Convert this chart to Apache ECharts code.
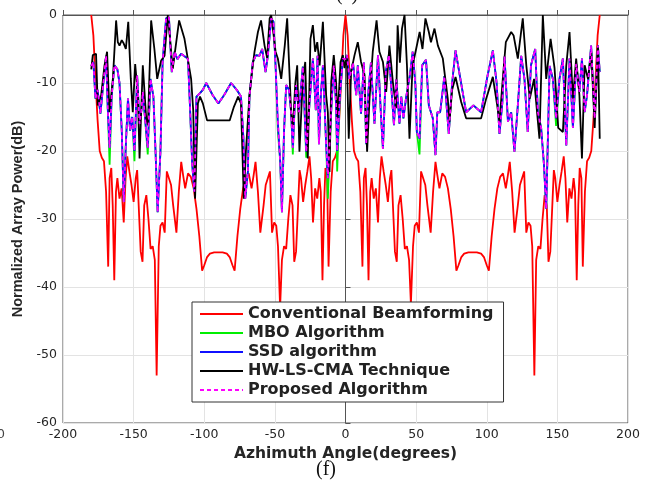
<!DOCTYPE html>
<html><head><meta charset="utf-8">
<script src="https://cdn.jsdelivr.net/npm/echarts@6/dist/echarts.min.js"></script>
<style>html,body{margin:0;padding:0;background:#fff}#c{width:652px;height:491px}</style>
</head><body><div id="c"></div>
<script>
const seriesNames = ['Conventional Beamforming','MBO Algorithm','SSD algorithm','HW-LS-CMA Technique','Proposed Algorithm'];
const xTickValues = [-200,-150,-100,-50,0,50,100,150,200];
const yTickValues = [-60,-50,-40,-30,-20,-10,0];

// Conventional beamforming: [angle (deg), power (dB)]
const conventional = [
[-180,0],[-178.5,-3],[-177,-9.5],[-175.5,-15.5],[-174,-20],[-172.5,-21],[-171,-21.5],[-169.5,-26],[-168,-37],[-167,-24],
[-165.8,-22.5],[-164.8,-28],[-163.7,-39],[-162.5,-26],[-161.5,-24],[-160,-27],[-158.5,-25.5],[-157,-30.5],[-155.7,-24],[-154.5,-20.8],
[-153,-23],[-151.5,-25],[-150,-27.5],[-148.5,-24],[-147.5,-22.8],[-146,-30],[-145,-34.8],[-143.7,-36.3],[-142.5,-28],[-141,-26.5],
[-139.5,-30],[-138,-34.4],[-136.5,-34],[-135,-36],[-133.7,-53],[-132.2,-34],[-131,-31],[-129.5,-30.5],[-128,-32],[-126.5,-23],
[-125,-24],[-123.5,-25],[-122,-28],[-119.7,-32],[-118,-26],[-116.3,-21.6],[-115,-23.5],[-113.5,-25.5],[-111.5,-23.3],[-109.5,-23.8],
[-107.5,-25.5],[-105.5,-28.5],[-103.5,-32.5],[-101.5,-37.6],[-100,-36.8],[-98,-35.6],[-96,-35.1],[-93,-34.9],
[-90,-34.9],[-87,-34.9],[-84,-35.1],[-82,-35.6],[-80,-36.8],[-78.5,-37.6],[-76.5,-32.5],[-74.5,-28.5],[-72.5,-25.5],[-70.5,-23.8],
[-68.5,-23.3],[-66.5,-25.5],[-65,-23.5],[-63.7,-21.6],[-62,-26],[-60.3,-32],[-58,-28],[-56.5,-25],[-55,-24],[-53.5,-23],
[-52,-32],[-50.5,-30.5],[-49,-31],[-47.8,-34],[-46.3,-43],[-45,-36],[-43.5,-34],[-42,-34.4],[-40.5,-30],[-39,-26.5],
[-37.5,-28],[-36.3,-36.3],[-35,-34.8],[-34,-30],[-32.5,-22.8],[-31.5,-24],[-30,-27.5],[-28.5,-25],[-27,-23],[-25.5,-20.8],
[-24.3,-24],[-23,-30.5],[-21.5,-25.5],[-20,-27],[-18.5,-24],[-17.5,-26],[-16.3,-39],[-15.2,-28],[-14.2,-22.5],[-13,-24],
[-12,-37],[-10.5,-26],[-9,-21.5],[-7.5,-21],[-6,-20],[-4.5,-15.5],[-3,-9.5],[-1.5,-3],
[0,0],[1.5,-3],[3,-9.5],[4.5,-15.5],[6,-20],[7.5,-21],[9,-21.5],[10.5,-26],[12,-37],[13,-24],
[14.2,-22.5],[15.2,-28],[16.3,-39],[17.5,-26],[18.5,-24],[20,-27],[21.5,-25.5],[23,-30.5],[24.3,-24],[25.5,-20.8],
[27,-23],[28.5,-25],[30,-27.5],[31.5,-24],[32.5,-22.8],[34,-30],[35,-34.8],[36.3,-36.3],[37.5,-28],[39,-26.5],
[40.5,-30],[42,-34.4],[43.5,-34],[45,-36],[46.3,-42.5],[47.8,-34],[49,-31],[50.5,-30.5],[52,-32],[53.5,-23],
[55,-24],[56.5,-25],[58,-28],[60.3,-32],[62,-26],[63.7,-21.6],[65,-23.5],[66.5,-25.5],[68.5,-23.3],[70.5,-23.8],
[72.5,-25.5],[74.5,-28.5],[76.5,-32.5],[78.5,-37.6],[80,-36.8],[82,-35.6],[84,-35.1],[87,-34.9],
[90,-34.9],[93,-34.9],[96,-35.1],[98,-35.6],[100,-36.8],[101.5,-37.6],[103.5,-32.5],[105.5,-28.5],[107.5,-25.5],[109.5,-23.8],
[111.5,-23.3],[113.5,-25.5],[115,-23.5],[116.3,-21.6],[118,-26],[119.7,-32],[122,-28],[123.5,-25],[125,-24],[126.5,-23],
[128,-32],[129.5,-30.5],[131,-31],[132.2,-34],[133.7,-53],[135,-36],[136.5,-34],[138,-34.4],[139.5,-30],[141,-26.5],
[142.5,-28],[143.7,-36.3],[145,-34.8],[146,-30],[147.5,-22.8],[148.5,-24],[150,-27.5],[151.5,-25],[153,-23],[154.5,-20.8],
[155.7,-24],[157,-30.5],[158.5,-25.5],[160,-27],[161.5,-24],[162.5,-26],[163.7,-39],[164.8,-28],[165.8,-22.5],[167,-24],
[168,-37],[169.5,-26],[171,-21.5],[172.5,-21],[174,-20],[175.5,-15.5],[177,-9.5],[178.5,-3],[180,0]
];

// SSD algorithm
const ssd = [
[-180,-7.5],[-178.5,-6.9],[-177,-12.3],[-175.5,-11],[-173.5,-14.5],[-171.8,-10.8],[-169.5,-6],[-168.3,-13.8],[-167,-19.5],[-165.5,-11.8],
[-163.6,-7.4],[-161.5,-8],[-160,-10],[-158.4,-17],[-157,-27.5],[-155.5,-19],[-154,-12.3],[-152.5,-17],[-151,-15],[-149.4,-20],
[-147.5,-8.9],[-145.8,-16],[-144.5,-14],[-143.5,-11.3],[-142,-15],[-140,-19.5],[-138.1,-9.4],[-136,-12],[-134.5,-20],[-133,-29],
[-131,-20],[-129.5,-7],[-127,-0.5],[-125,-0.3],[-123,-8.4],[-121,-5.4],[-119,-6.5],[-116.4,-5.7],[-113,-6.2],[-111.5,-6.5],
[-110,-14],[-108.5,-22],[-107,-26],[-105.5,-12],[-103,-11.5],[-101,-11],[-98.6,-10],[-94,-11.8],[-90,-13],[-86,-11.8],
[-81,-10],[-77,-11],[-74,-12],[-72.3,-18],[-71,-27],[-69.1,-23],[-68,-12],[-65.6,-6.9],[-63.3,-5.9],[-61,-6],
[-59,-5],[-56.6,-8.4],[-55,-6],[-52.6,-0.5],[-51,-1],[-49.5,-7.5],[-47.9,-15.7],[-46.2,-21.6],[-45,-29],[-43.5,-17],
[-42,-10.3],[-40,-11],[-38.5,-14.3],[-37.3,-19.5],[-36.1,-14],[-35,-10.3],[-33,-14.3],[-30.2,-7.6],[-27.8,-20.1],[-25.5,-13],
[-23.1,-6.4],[-21,-14],[-19.8,-6],[-18.8,-19],[-17.5,-12],[-16,-7.4],[-13.7,-19],[-12.5,-24],[-10.1,-14],[-8.3,-7.4],
[-6.7,-13],[-5.9,-20],[-4,-12],[-1.9,-6.4],[0,-6.5],[1,-5.9],[2.8,-9.4],[5.3,-7],[7.6,-11.8],[8.7,-7.4],
[11,-14.5],[13,-7],[14.7,-19],[16.2,-11.3],[18,-7],[20.5,-16],[23,-5.9],[25,-14.3],[26.5,-19.7],[28.5,-8.4],
[30.7,-5.9],[32.5,-10.8],[34.3,-16.2],[36,-9.5],[38.2,-16],[39.5,-12],[41,-15.2],[43,-12],[45.5,-9],[47.6,-5.4],
[49.5,-10.3],[50.5,-17.2],[52.4,-18.2],[54.3,-7.4],[57,-6.6],[59,-13.3],[61.8,-15.2],[63.7,-20.6],[65,-14.3],[67,-14.3],
[70,-9],[73.1,-17.5],[75.5,-10],[77.9,-5.2],[81,-9],[85.4,-14.3],[90.6,-13.3],[96,-14.3],[100.5,-9],[104.3,-5.2],
[107,-10],[109,-17.5],[111,-13],[112.6,-6.1],[115,-15.7],[117.3,-14.3],[119.6,-20.1],[122,-13.3],[124.4,-6],[126.7,-9.4],
[129,-17.2],[131.3,-7.4],[134.3,-5],[136.2,-14.3],[138.5,-16.6],[140.5,-22],[142.1,-28.5],[144.5,-7.5],[146.8,-9.4],[149.1,-15.2],
[151.5,-9.4],[153.9,-6.4],[156.3,-19.2],[158.6,-6.4],[161,-16.6],[163.3,-7.2],[165.6,-11.3],[167.4,-6.4],[169.3,-14.3],[171,-11.8],
[173.9,-4.5],[176.4,-15.2],[178.7,-4.5],[180,-8.4]
];

// MBO algorithm (follows SSD except for a few deeper nulls)
const mbo = [
[-180,-7.5],[-178.5,-6.9],[-177,-12.3],[-175.5,-11],[-173.5,-14.5],[-171.8,-10.8],[-169.5,-6],[-168.3,-13.8],[-167,-22],[-165.5,-11.8],
[-163.6,-7.4],[-161.5,-8],[-160,-10],[-158.4,-17],[-157,-27.5],[-155.5,-19],[-154,-12.3],[-152.5,-17],[-151,-15],[-149.4,-21.5],
[-147.5,-8.9],[-145.8,-16],[-144.5,-14],[-143.5,-11.3],[-142,-15],[-140,-20.5],[-138.1,-9.4],[-136,-12],[-134.5,-20],[-133,-29],
[-131,-20],[-129.5,-7],[-127,-0.5],[-125,-0.3],[-123,-8.4],[-121,-5.4],[-119,-6.5],[-116.4,-5.7],[-113,-6.2],[-111.5,-6.5],
[-110,-14],[-108.5,-22],[-107,-26],[-105.5,-12],[-103,-11.5],[-101,-11],[-98.6,-10],[-94,-11.8],[-90,-13],[-86,-11.8],
[-81,-10],[-77,-11],[-74,-12],[-72.3,-18],[-71,-27],[-69.1,-23],[-68,-12],[-65.6,-6.9],[-63.3,-5.9],[-61,-6],
[-59,-5],[-56.6,-8.4],[-55,-6],[-52.6,-0.5],[-51,-1],[-49.5,-7.5],[-47.9,-17],[-46.2,-21.6],[-45,-29],[-43.5,-17],
[-42,-10.3],[-40,-11],[-38.5,-14.3],[-37.3,-20.5],[-36.1,-14],[-35,-10.3],[-33,-14.3],[-30.2,-7.6],[-27.8,-21],[-25.5,-13],
[-23.1,-6.4],[-21,-14],[-19.8,-6],[-18.8,-19],[-17.5,-12],[-16,-7.4],[-13.7,-19],[-12.5,-27],[-10.1,-14],[-8.3,-7.4],
[-6.7,-13],[-5.9,-23],[-4,-12],[-1.9,-6.4],[0,-6.5],[1,-5.9],[2.8,-9.4],[5.3,-7],[7.6,-11.8],[8.7,-7.4],
[11,-14.5],[13,-7],[14.7,-19],[16.2,-11.3],[18,-7],[20.5,-16],[23,-5.9],[25,-14.3],[26.5,-19.7],[28.5,-8.4],
[30.7,-5.9],[32.5,-10.8],[34.3,-16.2],[36,-9.5],[38.2,-16],[39.5,-12],[41,-15.2],[43,-12],[45.5,-9],[47.6,-5.4],
[49.5,-10.3],[50.5,-17.2],[52.4,-20.5],[54.3,-7.4],[57,-6.6],[59,-13.3],[61.8,-15.2],[63.7,-20.6],[65,-14.3],[67,-14.3],
[70,-9],[73.1,-17.5],[75.5,-10],[77.9,-5.2],[81,-9],[85.4,-14.3],[90.6,-13.3],[96,-14.3],[100.5,-9],[104.3,-5.2],
[107,-10],[109,-17.5],[111,-13],[112.6,-6.1],[115,-15.7],[117.3,-14.3],[119.6,-20.1],[122,-13.3],[124.4,-6],[126.7,-9.4],
[129,-17.2],[131.3,-7.4],[134.3,-5],[136.2,-14.3],[138.5,-16.6],[140.5,-22],[142.1,-28.5],[144.5,-7.5],[146.8,-9.4],[149.1,-16.3],
[151.5,-9.4],[153.9,-6.4],[156.3,-19.2],[158.6,-6.4],[161,-16.6],[163.3,-7.2],[165.6,-11.3],[167.4,-6.4],[169.3,-14.3],[171,-11.8],
[173.9,-4.5],[176.4,-15.2],[178.7,-4.5],[180,-8.4]
];

// Proposed algorithm (overlaps SSD)
const proposed = [
[-180,-7.5],[-178.5,-6.9],[-177,-12.3],[-175.5,-11],[-173.5,-14.5],[-171.8,-10.8],[-169.5,-6],[-168.3,-13.8],[-167,-19.5],[-165.5,-11.8],
[-163.6,-7.4],[-161.5,-8],[-160,-10],[-158.4,-17],[-157,-27.5],[-155.5,-19],[-154,-12.3],[-152.5,-17],[-151,-15],[-149.4,-20],
[-147.5,-8.9],[-145.8,-16],[-144.5,-14],[-143.5,-11.3],[-142,-15],[-140,-19.5],[-138.1,-9.4],[-136,-12],[-134.5,-20],[-133,-29],
[-131,-20],[-129.5,-7],[-127,-0.5],[-125,-0.3],[-123,-8.4],[-121,-5.4],[-119,-6.5],[-116.4,-5.7],[-113,-6.2],[-111.5,-6.5],
[-110,-14],[-108.5,-22],[-107,-26],[-105.5,-12],[-103,-11.5],[-101,-11],[-98.6,-10],[-94,-11.8],[-90,-13],[-86,-11.8],
[-81,-10],[-77,-11],[-74,-12],[-72.3,-18],[-71,-27],[-69.1,-23],[-68,-12],[-65.6,-6.9],[-63.3,-5.9],[-61,-6],
[-59,-5],[-56.6,-8.4],[-55,-6],[-52.6,-0.5],[-51,-1],[-49.5,-7.5],[-47.9,-15.7],[-46.2,-21.6],[-45,-29],[-43.5,-17],
[-42,-10.3],[-40,-11],[-38.5,-14.3],[-37.3,-19.5],[-36.1,-14],[-35,-10.3],[-33,-14.3],[-30.2,-7.6],[-27.8,-20.1],[-25.5,-13],
[-23.1,-6.4],[-21,-14],[-19.8,-6],[-18.8,-19],[-17.5,-12],[-16,-7.4],[-13.7,-19],[-12.5,-24],[-10.1,-14],[-8.3,-7.4],
[-6.7,-13],[-5.9,-20],[-4,-12],[-1.9,-6.4],[0,-6.5],[1,-5.9],[2.8,-9.4],[5.3,-7],[7.6,-11.8],[8.7,-7.4],
[11,-14.5],[13,-7],[14.7,-19],[16.2,-11.3],[18,-7],[20.5,-16],[23,-5.9],[25,-14.3],[26.5,-19.7],[28.5,-8.4],
[30.7,-5.9],[32.5,-10.8],[34.3,-16.2],[36,-9.5],[38.2,-16],[39.5,-12],[41,-15.2],[43,-12],[45.5,-9],[47.6,-5.4],
[49.5,-10.3],[50.5,-17.2],[52.4,-18.2],[54.3,-7.4],[57,-6.6],[59,-13.3],[61.8,-15.2],[63.7,-20.6],[65,-14.3],[67,-14.3],
[70,-9],[73.1,-17.5],[75.5,-10],[77.9,-5.2],[81,-9],[85.4,-14.3],[90.6,-13.3],[96,-14.3],[100.5,-9],[104.3,-5.2],
[107,-10],[109,-17.5],[111,-13],[112.6,-6.1],[115,-15.7],[117.3,-14.3],[119.6,-20.1],[122,-13.3],[124.4,-6],[126.7,-9.4],
[129,-17.2],[131.3,-7.4],[134.3,-5],[136.2,-14.3],[138.5,-16.6],[140.5,-22],[142.1,-28.5],[144.5,-7.5],[146.8,-9.4],[149.1,-15.2],
[151.5,-9.4],[153.9,-6.4],[156.3,-19.2],[158.6,-6.4],[161,-16.6],[163.3,-7.2],[165.6,-11.3],[167.4,-6.4],[169.3,-14.3],[171,-11.8],
[173.9,-4.5],[176.4,-15.2],[178.7,-4.5],[180,-8.4]
];

// HW-LS-CMA technique
const hwlscma = [
[-180,-8],[-178.9,-5.9],[-176.6,-5.7],[-175.4,-13.3],[-173,-11.8],[-170.6,-7.4],[-168.8,-5.4],[-167.1,-14.3],[-164.7,-9.4],[-162.4,-0.8],
[-161.2,-4],[-160,-4.5],[-158.4,-3.7],[-157,-4.2],[-155.5,-5],[-153.8,-1],[-152,-9.4],[-150.6,-14.3],[-148.9,-7.2],
[-147,-11.8],[-145.8,-21.1],[-143.5,-7.4],[-141.1,-15.2],[-139.9,-16.2],[-137.6,-0.8],[-135.3,-5],[-133.3,-9.4],[-130.5,-6.7],[-128.1,-6],
[-125.8,0],[-122.3,-7.9],[-117.8,-0.8],[-114,-3.5],[-109.3,-9.4],[-107.8,-14],[-106.5,-27],[-104.5,-13],[-103,-12],[-101,-13],
[-98,-15.5],[-82,-15.5],[-79,-13.5],[-76,-12],[-74,-13],[-72,-27],[-70.5,-20],[-68,-11.8],[-66,-8],[-64.4,-5.4],
[-62,-2.5],[-59.8,-0.8],[-57.3,-4.5],[-55.5,-6.3],[-53.7,-0.5],[-52.6,0],[-49.5,-5.4],[-47.9,-6.4],[-45.5,-9.4],[-43,-4.5],
[-41.3,-0.5],[-38.5,-14.3],[-37.3,-16.5],[-35.5,-10],[-34.2,-7.4],[-32.6,-20.1],[-30.2,-9.4],[-28.5,-6.9],[-26.7,-21.1],[-24.8,-3.5],
[-23.1,-1.5],[-21.5,-5.4],[-20,-4],[-18.3,-7.4],[-16,-1],[-13.7,-11.8],[-12.5,-14.3],[-11.3,-23.1],[-10.1,-9.8],[-8.3,-5.9],
[-6.7,-9.8],[-5.6,-15.2],[-3.5,-6.9],[-1.9,-5.9],[-0.7,-7.8],[0.9,-5.9],[2.3,-18.2],[4,-8.3],[6.4,-5.9],[8.7,-4],
[11,-6.9],[13.4,-8.8],[15.3,-20.1],[17,-12.3],[19.3,-5.4],[22,-0.8],[24,-5.4],[26.5,-6.9],[28.8,-11.3],[31.1,-4.5],
[33.5,-9.8],[35.8,-13.7],[36.9,-1.5],[38.5,-7],[40,-2],[41.8,0],[43.5,-7.4],[45.3,-18.2],[47.5,-7.4],[50,-5],[52.5,-2.5],
[54.5,-5],[56.6,-0.5],[59,-2.5],[60.5,-4],[63,-2],[65.4,-4.5],[68.9,-6.4],[72.4,-12.3],[73.6,-15.7],[75.5,-11],[77.9,-9.1],
[81.9,-12.8],[85.4,-15.2],[96,-15.2],[99.6,-12.3],[104.3,-9.1],[107.4,-13.3],[109,-15.7],[111.5,-9],[113.5,-4],[117.3,-2.5],
[119,-3],[122,-6.4],[125.5,-0.5],[128,-7.4],[130.5,-12.3],[133.5,-9.4],[137.3,-18.2],[139.7,0],[142.1,-9.4],[145.2,-3.5],
[148,-7.8],[150.6,-16.6],[153.9,-17.2],[156.3,-7.4],[158.6,-2.5],[161,-12.3],[163.3,-6.4],[165.6,-11.8],[167.4,-21.1],[169.3,-7.4],
[171.7,-9.4],[174,-5.4],[176.4,-16.6],[178.7,-4.5],[180,-18.2]
];

const chart = echarts.init(document.getElementById('c'), null, {renderer: 'canvas'});
const tickFont = {fontFamily: 'DejaVu Sans', fontSize: 12.5, color: '#262626'};
function lineSeries(name, data, color, extra) {
  return Object.assign({
    name: name, type: 'line', data: data, symbol: 'none', showSymbol: false, smooth: false,
    lineStyle: {color: color, width: 1.8}, itemStyle: {color: color}, z: 2
  }, extra || {});
}
chart.setOption({
  animation: false,
  backgroundColor: '#ffffff',
  grid: {left: 63, right: 24, top: 15, bottom: 68, show: true, borderColor: '#555', borderWidth: 1, backgroundColor: '#fff'},
  xAxis: {
    type: 'value', min: -200, max: 200, interval: 50,
    name: 'Azhimuth Angle(degrees)', nameLocation: 'middle', nameGap: 21,
    nameTextStyle: {fontFamily: 'DejaVu Sans', fontWeight: 'bold', fontSize: 15.5, color: '#262626'},
    axisLine: {show: true, lineStyle: {color: '#555'}},
    axisTick: {show: true, inside: true, length: 5, lineStyle: {color: '#555'}},
    axisLabel: Object.assign({margin: 5, formatter: v => xTickValues.includes(v) ? String(v) : ''}, tickFont),
    splitLine: {show: true, lineStyle: {color: '#e3e3e3', width: 1}}
  },
  yAxis: {
    type: 'value', min: -60, max: 0, interval: 10,
    name: 'Normalized Array Power(dB)', nameLocation: 'middle', nameGap: 34, nameRotate: 90,
    nameTextStyle: {fontFamily: 'Liberation Sans', fontWeight: 'bold', fontSize: 14.5, color: '#262626'},
    axisLine: {show: true, lineStyle: {color: '#555'}},
    axisTick: {show: true, inside: true, length: 5, lineStyle: {color: '#555'}},
    axisLabel: Object.assign({margin: 6, formatter: v => yTickValues.includes(v) ? String(v) : ''}, tickFont),
    splitLine: {show: true, lineStyle: {color: '#e3e3e3', width: 1}}
  },
  legend: {
    show: true, orient: 'vertical', left: 192, top: 302,
    data: seriesNames,
    backgroundColor: '#ffffff', borderColor: '#333', borderWidth: 1,
    padding: [4, 10, 4, 7], itemWidth: 43, itemHeight: 16, itemGap: 3,
    itemStyle: {opacity: 0},
    textStyle: {fontFamily: 'DejaVu Sans', fontWeight: 'bold', fontSize: 16, color: '#222'}
  },
  graphic: [
    {type: 'text', left: 'center', top: 460, style: {text: '(f)', fontFamily: 'Liberation Serif', fontSize: 20, fill: '#111'}},
    {type: 'text', left: 336, top: -15, style: {text: '(e)', fontFamily: 'Liberation Serif', fontSize: 20, fill: '#111'}},
    {type: 'text', left: -3, top: 428, style: {text: '0', fontFamily: 'DejaVu Sans', fontSize: 12.5, fill: '#444'}}
  ],
  series: [
    lineSeries(seriesNames[0], conventional, '#ff0000'),
    lineSeries(seriesNames[1], mbo, '#00ee00'),
    lineSeries(seriesNames[2], ssd, '#1010ff'),
    lineSeries(seriesNames[3], hwlscma, '#000000'),
    lineSeries(seriesNames[4], proposed, '#ff00ff', {lineStyle: {color: '#ff00ff', width: 1.8, type: [4, 3]}, z: 3})
  ]
});
</script></body></html>
